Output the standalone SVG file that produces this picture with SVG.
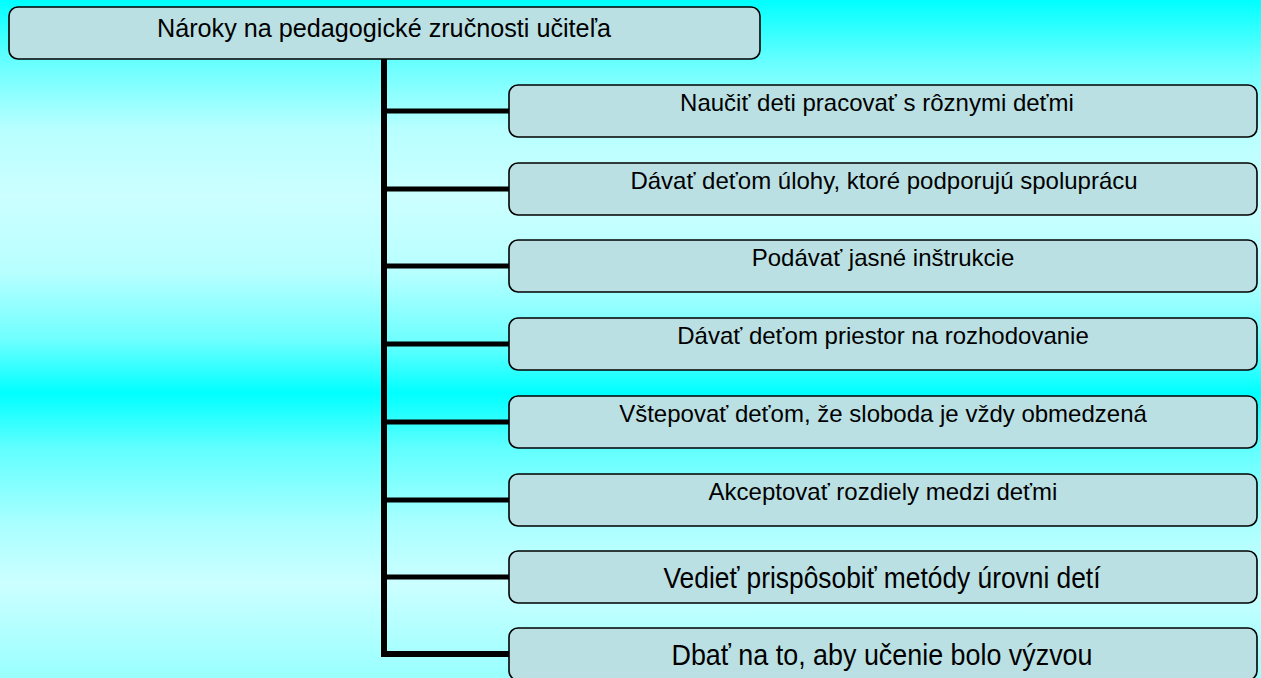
<svg xmlns="http://www.w3.org/2000/svg" width="1261" height="678" viewBox="0 0 1261 678">
  <defs>
    <linearGradient id="bg" gradientUnits="userSpaceOnUse" x1="0" y1="0" x2="0" y2="678">
      <stop offset="0" stop-color="#00FFFF"/>
      <stop offset="0.09" stop-color="#66FFFF"/>
      <stop offset="0.19" stop-color="#B8FFFF"/>
      <stop offset="0.29" stop-color="#CCFFFF"/>
      <stop offset="0.40" stop-color="#B8FFFF"/>
      <stop offset="0.50" stop-color="#70FFFF"/>
      <stop offset="0.58" stop-color="#00FFFF"/>
      <stop offset="0.66" stop-color="#60FFFF"/>
      <stop offset="0.77" stop-color="#A8FFFF"/>
      <stop offset="0.86" stop-color="#CCFFFF"/>
      <stop offset="1" stop-color="#99FFFF"/>
    </linearGradient>
    <style>
      .box { fill: #BBE0E3; stroke: #000; stroke-width: 1.6; }
      .lbl { font-family: "Liberation Sans", Arial, sans-serif; font-size: 24px; fill: #000; }
      .top { font-family: "Liberation Sans", Arial, sans-serif; font-size: 25.2px; fill: #000; }
      .big { font-family: "Liberation Sans", Arial, sans-serif; font-size: 30px; fill: #000; }
      .conn { stroke: #000; fill: none; stroke-width: 6; stroke-linejoin: miter; }
      .br { stroke: #000; fill: none; stroke-width: 5; }
    </style>
  </defs>
  <rect x="0" y="0" width="1261" height="678" fill="url(#bg)"/>

  <g id="connectors">
    <path class="conn" d="M384,59 V654 H509"/>
    <path class="br" d="M384,111 H509"/>
    <path class="br" d="M384,189 H509"/>
    <path class="br" d="M384,266 H509"/>
    <path class="br" d="M384,344 H509"/>
    <path class="br" d="M384,422 H509"/>
    <path class="br" d="M384,500 H509"/>
    <path class="br" d="M384,577 H509"/>
  </g>

  <g id="root">
    <rect class="box" x="9" y="7" width="751" height="52" rx="9"/>
    <text class="top" x="157" y="37">Nároky na pedagogické zručnosti učiteľa</text>
  </g>

  <g id="n1">
    <rect class="box" x="509" y="85" width="748" height="52" rx="9"/>
    <text class="lbl" x="877" y="111" text-anchor="middle">Naučiť deti pracovať s rôznymi deťmi</text>
  </g>
  <g id="n2">
    <rect class="box" x="509" y="163" width="748" height="52" rx="9"/>
    <text class="lbl" x="884" y="189" text-anchor="middle">Dávať deťom úlohy, ktoré podporujú spoluprácu</text>
  </g>
  <g id="n3">
    <rect class="box" x="509" y="240" width="748" height="52" rx="9"/>
    <text class="lbl" x="883" y="266" text-anchor="middle">Podávať jasné inštrukcie</text>
  </g>
  <g id="n4">
    <rect class="box" x="509" y="318" width="748" height="52" rx="9"/>
    <text class="lbl" x="883" y="344" text-anchor="middle">Dávať deťom priestor na rozhodovanie</text>
  </g>
  <g id="n5">
    <rect class="box" x="509" y="396" width="748" height="52" rx="9"/>
    <text class="lbl" x="883" y="422" text-anchor="middle">Vštepovať deťom, že sloboda je vždy obmedzená</text>
  </g>
  <g id="n6">
    <rect class="box" x="509" y="474" width="748" height="52" rx="9"/>
    <text class="lbl" x="883" y="500" text-anchor="middle">Akceptovať rozdiely medzi deťmi</text>
  </g>
  <g id="n7">
    <rect class="box" x="509" y="551" width="748" height="52" rx="9"/>
    <text class="big" x="882" y="588" text-anchor="middle" textLength="437" lengthAdjust="spacingAndGlyphs">Vedieť prispôsobiť metódy úrovni detí</text>
  </g>
  <g id="n8">
    <rect class="box" x="509" y="628" width="748" height="52" rx="9"/>
    <text class="big" x="882" y="665" text-anchor="middle" textLength="421" lengthAdjust="spacingAndGlyphs">Dbať na to, aby učenie bolo výzvou</text>
  </g>
</svg>
